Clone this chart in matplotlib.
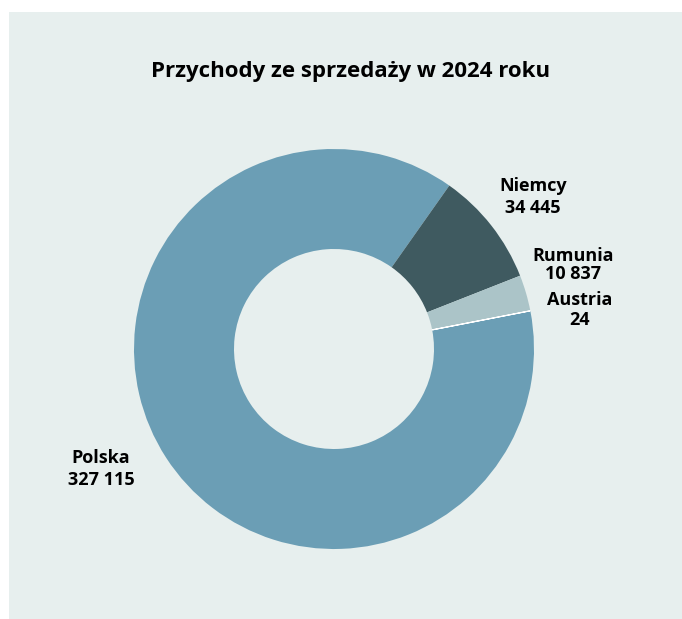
import matplotlib
matplotlib.use('Agg')
import matplotlib.pyplot as plt
from matplotlib.patches import Rectangle

# sales revenue by country, 2024
countries = ['Polska', 'Niemcy', 'Rumunia', 'Austria']
revenue = [327115, 34445, 10837, 24]
colors = ['#6b9eb5', '#3f5a60', '#abc4c8', '#ffffff']
# label centres in axes data units (pie radius = 1)
label_pos = [(-1.165, -0.60), (0.995, 0.76), (1.195, 0.42), (1.227, 0.195)]
label_spacing = [1.25, 1.25, 1.05, 1.15]

title = 'Przychody ze sprzedaży w 2024 roku'
bg = '#e7efee'

plt.rcParams['font.family'] = ['Open Sans', 'DejaVu Sans']

W, H = 682, 619
fig = plt.figure(figsize=(W / 100, H / 100), dpi=100)
fig.patch.set_facecolor('white')
fig.patches.append(Rectangle((9 / W, 0), 1 - 9 / W, 1 - 12 / H,
                             transform=fig.transFigure, facecolor=bg,
                             edgecolor='none', zorder=0))

cx, cy, r = 334, 349, 200
ax = fig.add_axes([(cx - r) / W, (H - cy - r) / H, 2 * r / W, 2 * r / H])
ax.set_facecolor('none')
ax.set_zorder(2)

wedges, _ = ax.pie(revenue, colors=colors, startangle=11, counterclock=False,
                   radius=1, wedgeprops=dict(width=0.5, linewidth=0))
wedges[3].set_edgecolor('white')
wedges[3].set_linewidth(0.8)

def fmt(v):
    return f'{v:,}'.replace(',', ' ')

for name, val, (x, y), ls in zip(countries, revenue, label_pos, label_spacing):
    ax.text(x, y, f'{name}\n{fmt(val)}', ha='center', va='center',
            multialignment='center', fontsize=13, fontweight='bold',
            linespacing=ls, color='black')

ax.set_xlim(-1, 1)
ax.set_ylim(-1, 1)
ax.set_aspect('equal')
ax.axis('off')

fig.text(351 / W, 1 - 71 / H, title, ha='center', va='center',
         fontsize=16, fontweight='bold', color='black', zorder=3)

fig.savefig('out.png', dpi=100)
